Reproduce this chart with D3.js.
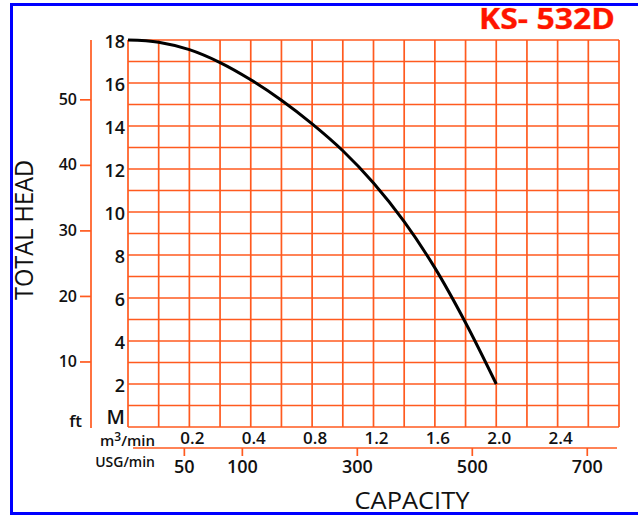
<!DOCTYPE html>
<html>
<head>
<meta charset="utf-8">
<script src="https://cdn.jsdelivr.net/npm/d3@7"></script>
<style>
  body { margin: 0; background: #fff; }
  text { font-family: "Open Sans", "Noto Sans", sans-serif; fill: #111; }
</style>
</head>
<body>
<script>
// pump curve (capacity m3/min, head M)
const flow = [0, 0.1, 0.2, 0.3, 0.4, 0.6, 0.8, 1.0, 1.2, 1.4, 1.6, 1.8, 2.0];
const head = [18, 17.9, 17.55, 16.95, 16.15, 15.2, 14.1, 12.85, 11.35, 9.55, 7.4, 4.85, 2.0];

const m3Ticks = [0.2, 0.4, 0.8, 1.2, 1.6, 2.0, 2.4];
const usgTicks = [50, 100, 300, 500, 700];
const mTicks = [2, 4, 6, 8, 10, 12, 14, 16, 18];
const ftTicks = [10, 20, 30, 40, 50];

const W = 638, H = 516;
const gLeft = 128, gRight = 619, gTop = 40, gBottom = 427;
const grid = "#ff5a1f";

const svg = d3.select("body").append("svg")
  .attr("width", W)
  .attr("height", H);

// frame
svg.append("rect")
  .attr("x", 11.5).attr("y", 4.5)
  .attr("width", 700).attr("height", 509)
  .attr("fill", "none")
  .attr("stroke", "#0000ff")
  .attr("stroke-width", 3);

//* scales
const col = d3.scaleLinear().domain([0, 16]).range([gLeft, gRight]);
// the printed capacity scale is not linear: 0.1 per column up to 0.4, then 0.2
const x = d3.scaleLinear().domain([0, 0.4, 2.8]).range([col(0), col(4), col(16)]);
const y = d3.scaleLinear().domain([0, 18]).range([gBottom, gTop]);
const yFt = d3.scaleLinear().domain([0, 18 / 0.3048]).range([gBottom, gTop]);
const usg = d3.scaleLinear().domain([50, 100, 700]).range([col(1.82), col(3.71), col(14.95)]);

//* grid
const g = svg.append("g");
g.selectAll(".v")
  .data(d3.range(0, 17))
  .enter().append("line")
  .attr("x1", d => col(d)).attr("x2", d => col(d))
  .attr("y1", gTop).attr("y2", gBottom)
  .attr("stroke", grid).attr("stroke-width", 1.7);
g.selectAll(".h")
  .data(d3.range(0, 19))
  .enter().append("line")
  .attr("x1", gLeft).attr("x2", gRight)
  .attr("y1", d => y(d)).attr("y2", d => y(d))
  .attr("stroke", grid).attr("stroke-width", 1.7);

//* M labels
svg.selectAll(".mlab")
  .data(mTicks)
  .enter().append("text")
  .attr("x", 125)
  .attr("y", d => y(d) + 3)
  .attr("text-anchor", "end")
  .attr("dominant-baseline", "middle")
  .style("font-size", "18px")
  .style("font-weight", 600)
  .text(d => d);

svg.append("text")
  .attr("x", 125).attr("y", 424)
  .attr("text-anchor", "end")
  .style("font-size", "20px").style("font-weight", 600)
  .text("M");

//! ft axis
const ftAxis = d3.axisLeft(yFt).tickValues(ftTicks).tickSize(11).tickPadding(3);
const fa = svg.append("g")
  .attr("transform", "translate(91,0)")
  .call(ftAxis);
fa.select(".domain").remove();
fa.selectAll(".tick line").attr("stroke", grid).attr("stroke-width", 1.7);
fa.selectAll(".tick text")
  .style("font-size", "16px").style("font-weight", 600)
  .style("font-family", "'Open Sans', sans-serif").attr("fill", "#111");
svg.append("line")
  .attr("x1", 91).attr("x2", 91)
  .attr("y1", gTop).attr("y2", gBottom + 1)
  .attr("stroke", grid).attr("stroke-width", 1.7);
svg.append("text")
  .attr("x", 82).attr("y", 427)
  .attr("text-anchor", "end")
  .style("font-size", "17px").style("font-weight", 600)
  .text("ft");

//! m3/min labels
svg.selectAll(".m3")
  .data(m3Ticks)
  .enter().append("text")
  .attr("x", d => x(d) + 3)
  .attr("y", 444)
  .attr("text-anchor", "middle")
  .style("font-size", "17px").style("font-weight", 600)
  .text(d => d.toFixed(1));

const m3lab = svg.append("text")
  .attr("x", 155).attr("y", 446)
  .attr("text-anchor", "end")
  .style("font-size", "15px").style("font-weight", 600);
m3lab.append("tspan").text("m");
m3lab.append("tspan").attr("dy", -5).style("font-size", "12px").text("3");
m3lab.append("tspan").attr("dy", 5).text("/min");

//! USG axis
const usgAxis = d3.axisBottom(usg).tickValues(usgTicks).tickSize(8).tickPadding(4);
const ua = svg.append("g")
  .attr("transform", "translate(0,448)")
  .call(usgAxis);
ua.select(".domain").remove();
ua.selectAll(".tick line").attr("stroke", grid).attr("stroke-width", 1.7);
ua.selectAll(".tick text")
  .style("font-size", "18px").style("font-weight", 600)
  .style("font-family", "'Open Sans', sans-serif").attr("fill", "#111");
svg.append("line")
  .attr("x1", 133).attr("x2", 617)
  .attr("y1", 448).attr("y2", 448)
  .attr("stroke", grid).attr("stroke-width", 1.7);
svg.append("text")
  .attr("x", 155).attr("y", 467)
  .attr("text-anchor", "end")
  .style("font-size", "14px").style("font-weight", 600)
  .text("USG/min");

//* curve
const pts = flow.map((f, i) => [x(f), y(head[i])]);
svg.append("path")
  .attr("d", d3.line().curve(d3.curveCatmullRom)(pts))
  .attr("fill", "none")
  .attr("stroke", "#000")
  .attr("stroke-width", 3);

//* titles
svg.append("text")
  .attr("transform", "translate(33,230) rotate(-90)")
  .attr("text-anchor", "middle")
  .attr("textLength", 140).attr("lengthAdjust", "spacingAndGlyphs")
  .style("font-size", "26px")
  .text("TOTAL HEAD");

svg.append("text")
  .attr("x", 412).attr("y", 509)
  .attr("text-anchor", "middle")
  .attr("textLength", 115).attr("lengthAdjust", "spacingAndGlyphs")
  .style("font-size", "24px")
  .text("CAPACITY");

svg.append("text")
  .attr("x", 615).attr("y", 29)
  .attr("text-anchor", "end")
  .attr("textLength", 136).attr("lengthAdjust", "spacingAndGlyphs")
  .style("font-size", "29px").style("font-weight", 700)
  .style("fill", "#ff1400")
  .style("stroke", "#ffb070").style("stroke-width", 0.6)
  .style("paint-order", "stroke")
  .text("KS- 532D");
</script>
</body>
</html>
